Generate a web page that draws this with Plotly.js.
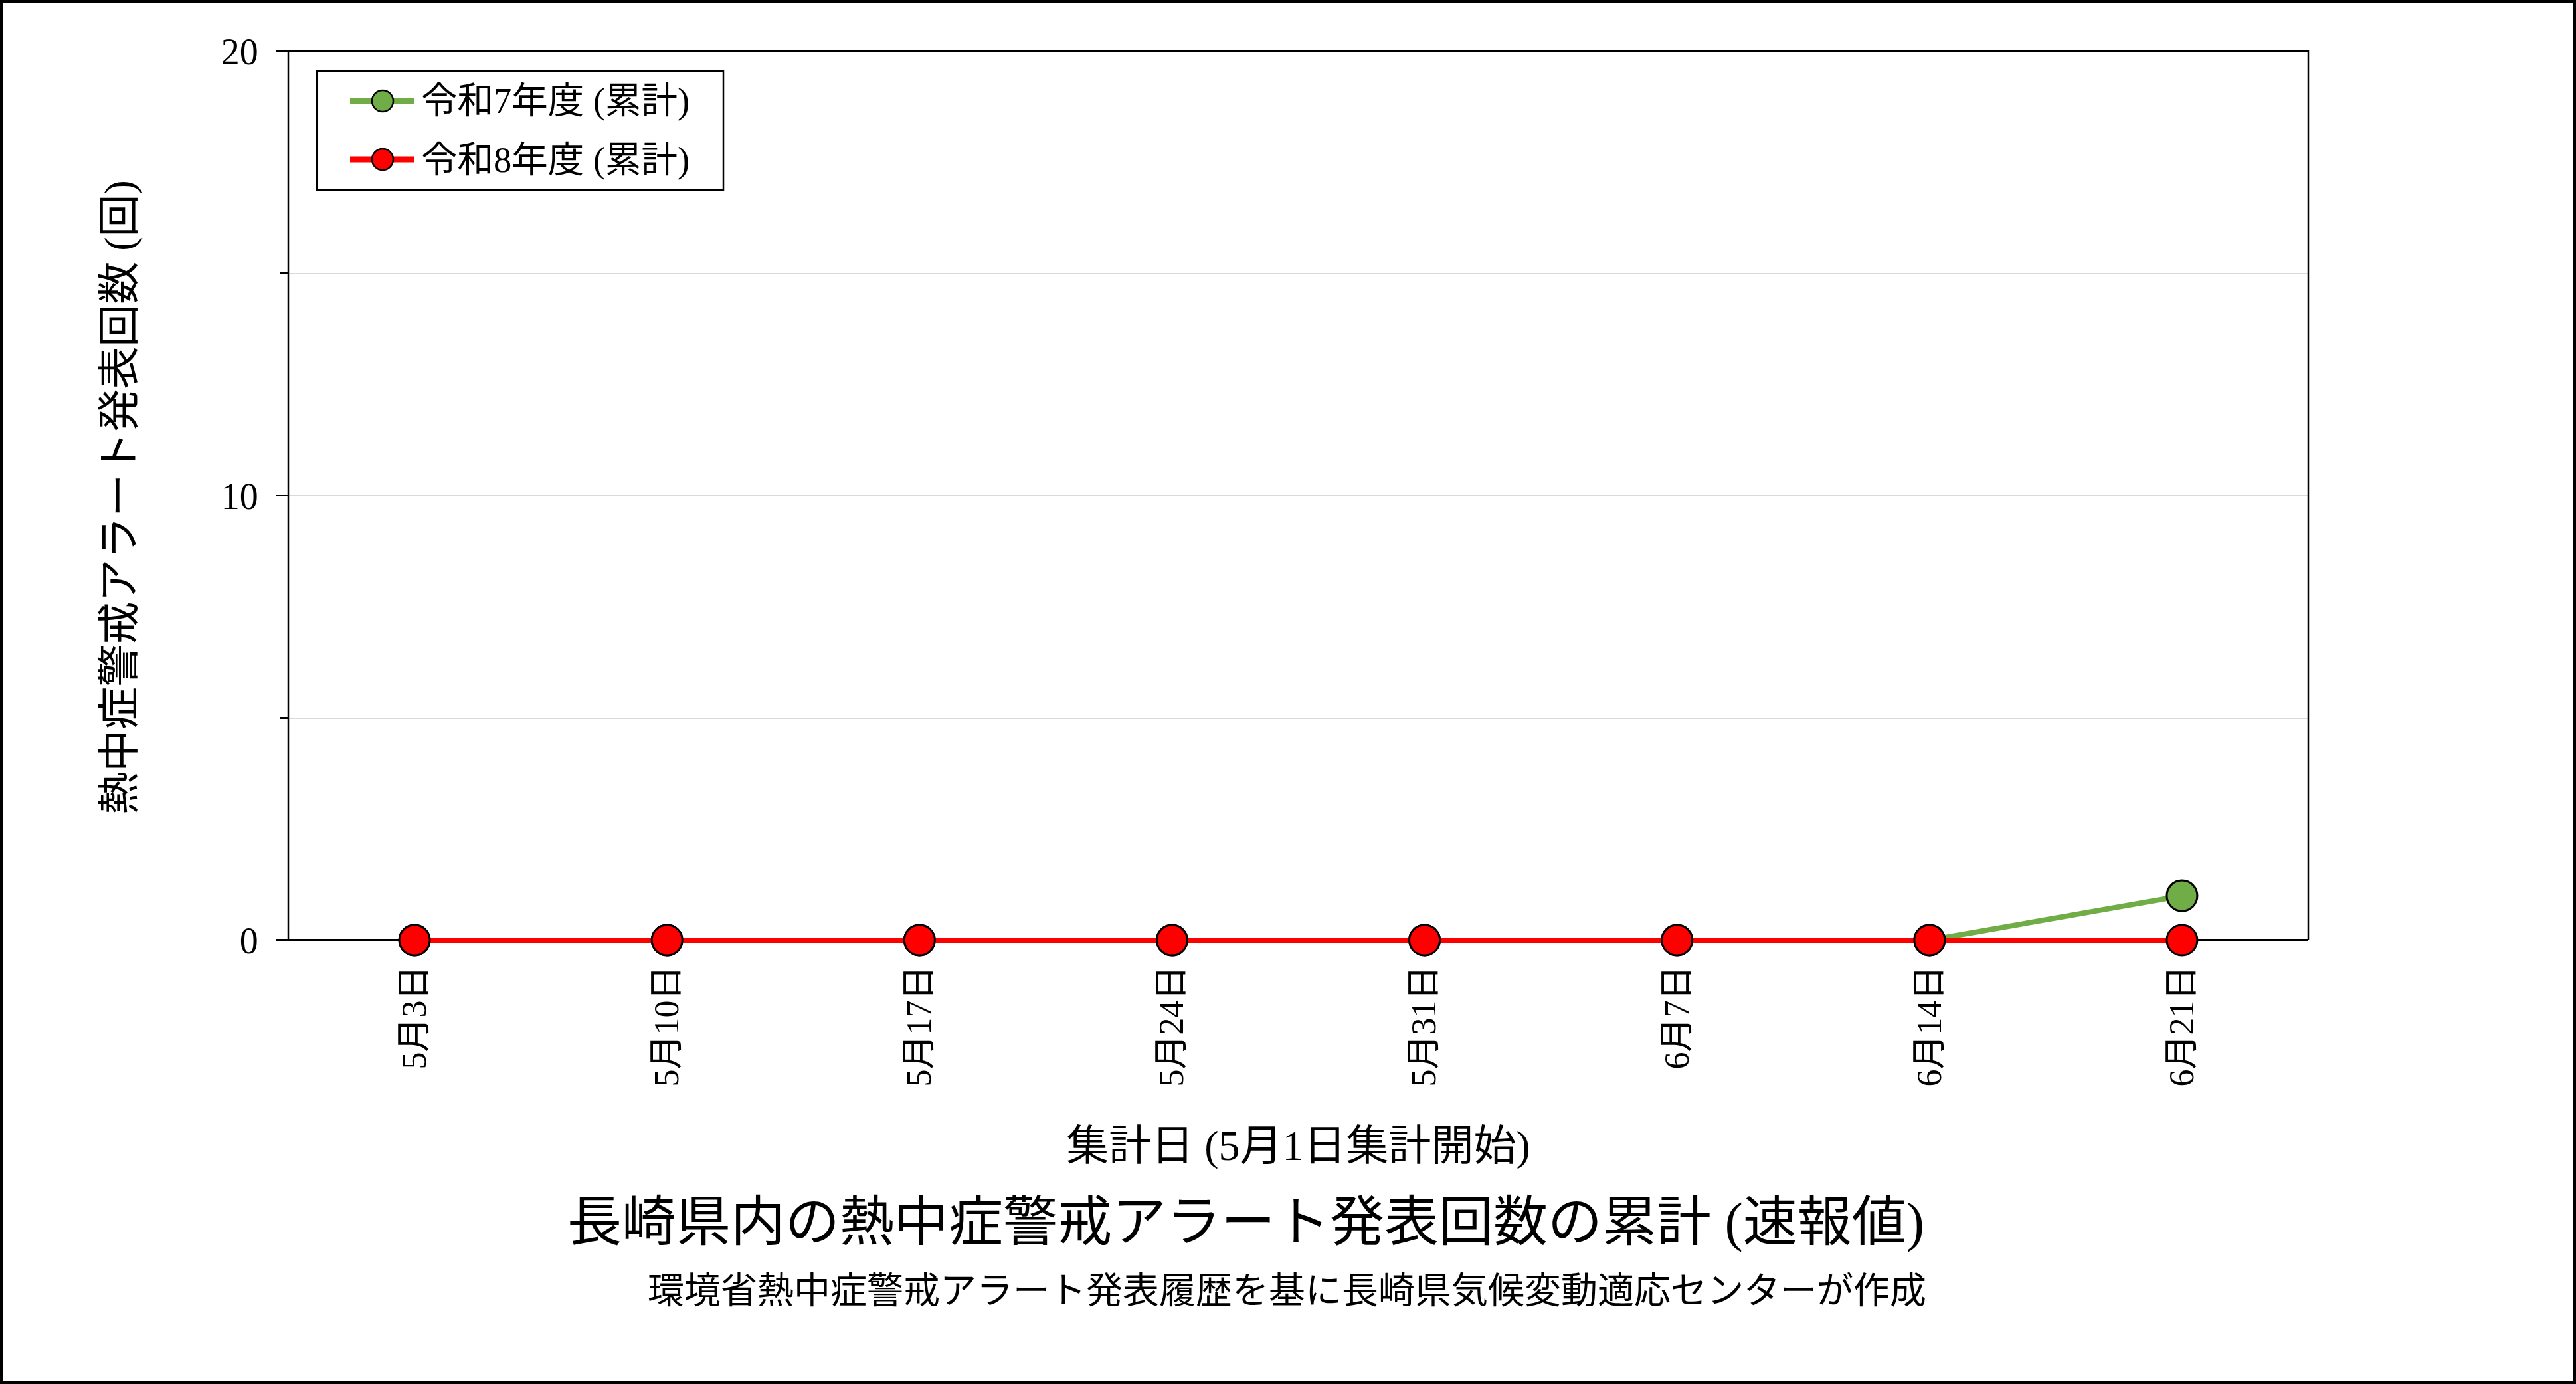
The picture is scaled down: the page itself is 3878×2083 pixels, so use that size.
<!DOCTYPE html>
<html>
<head>
<meta charset="utf-8">
<script src="https://cdn.plot.ly/plotly-3.0.1.min.js"></script>
<style>
html, body { margin: 0; padding: 0; background: #ffffff; }
#chart { width: 3878px; height: 2083px; }
</style>
</head>
<body>
<div id="chart"></div>
<script>
// ---- data ----
const dates = ["5月3日", "5月10日", "5月17日", "5月24日", "5月31日", "6月7日", "6月14日", "6月21日"];
const seriesNames = ["令和7年度 (累計)", "令和8年度 (累計)"];
const r7Values = [0, 0, 0, 0, 0, 0, 0, 1];
const r8Values = [0, 0, 0, 0, 0, 0, 0, 0];
const yTickVals = [0, 10, 20];
const yTickText = ["0", "10", "20"];
const titleText = "長崎県内の熱中症警戒アラート発表回数の累計 (速報値)";
const subtitleText = "環境省熱中症警戒アラート発表履歴を基に長崎県気候変動適応センターが作成";
const xTitleText = "集計日 (5月1日集計開始)";
const yTitleText = "熱中症警戒アラート発表回数 (回)";

// ---- layout geometry ----
const W = 3878, H = 2083;
const ZERO_PX = 1415;            // pixel row of value 0 (bottom of frame)
const PAD = 5;                   // room below 0 so the 0-level line is not clipped
const L = 434, R = 3475, T = 77, B = ZERO_PX + PAD;
const PW = R - L, PH = B - T;
const YMAX = 20;
const YMIN = -PAD * YMAX / (ZERO_PX - T);
const px = x => (x - L) / PW;
const py = y => (B - y) / PH;

const FONT = "'Liberation Serif', 'Noto Sans CJK JP', serif";
const colors = ["#70AD47", "#FF0000"];

const traces = [
  {
    type: "scatter", mode: "lines+markers", name: seriesNames[0],
    x: dates, y: r7Values, cliponaxis: false, showlegend: false,
    line: { color: colors[0], width: 8 },
    marker: { size: 46, color: colors[0], line: { color: "#000000", width: 3 } }
  },
  {
    type: "scatter", mode: "lines+markers", name: seriesNames[1],
    x: dates, y: r8Values, cliponaxis: false, showlegend: false,
    line: { color: colors[1], width: 8 },
    marker: { size: 46, color: colors[1], line: { color: "#000000", width: 3 } }
  }
];

const y0p = py(ZERO_PX);
const shapes = [
  // outer border of the whole image
  { type: "rect", xref: "paper", yref: "paper",
    x0: px(2), x1: px(W - 2), y0: py(H - 2), y1: py(2),
    line: { color: "#000000", width: 4 }, fillcolor: "rgba(0,0,0,0)", layer: "above" },
  // plot frame: left, top, right (bottom is the y zero line, under the data)
  { type: "path", xref: "paper", yref: "paper",
    path: `M0,${y0p} L0,1 L1,1 L1,${y0p}`,
    line: { color: "#000000", width: 2.5 }, layer: "above" },
  // legend box
  { type: "rect", xref: "paper", yref: "paper",
    x0: px(477), x1: px(1089), y0: py(286), y1: py(107),
    line: { color: "#000000", width: 2.5 }, fillcolor: "#ffffff", layer: "above" }
];
const annotations = [];
const legendRows = [152, 240];
seriesNames.forEach((nm, i) => {
  const cy = py(legendRows[i]);
  shapes.push({ type: "line", xref: "paper", yref: "paper",
    x0: px(527), x1: px(624), y0: cy, y1: cy,
    line: { color: colors[i], width: 9 }, layer: "above" });
  shapes.push({ type: "circle", xref: "paper", yref: "paper",
    xsizemode: "pixel", ysizemode: "pixel",
    xanchor: px(576), yanchor: cy, x0: -16, x1: 16, y0: -16, y1: 16,
    fillcolor: colors[i], line: { color: "#000000", width: 2.5 }, layer: "above" });
  annotations.push({ xref: "paper", yref: "paper", x: px(632), y: cy,
    xanchor: "left", yanchor: "middle", showarrow: false, text: nm,
    font: { family: FONT, size: 54.5, color: "#000000" } });
});

// subtitle
annotations.push({ xref: "paper", yref: "paper", x: px(2902), y: py(1942),
  xanchor: "right", yanchor: "middle", showarrow: false, text: subtitleText,
  font: { family: FONT, size: 55, color: "#000000" } });

const layout = {
  width: W, height: H,
  margin: { l: L, r: W - R, t: T, b: H - B, pad: 0 },
  paper_bgcolor: "#ffffff", plot_bgcolor: "#ffffff",
  showlegend: false,
  font: { family: FONT, color: "#000000" },
  title: {
    text: titleText, xref: "paper", yref: "container",
    x: px(2897), xanchor: "right", y: 1 - 1838 / H, yanchor: "middle",
    font: { family: FONT, size: 82, color: "#000000" }
  },
  xaxis: {
    type: "category", range: [-0.5, 7.5],
    showline: false, showgrid: false, zeroline: false, ticks: "", tickangle: -90,
    ticklabelstandoff: 22,
    tickfont: { family: FONT, size: 52, color: "#000000" },
    title: { text: xTitleText, standoff: 66, font: { family: FONT, size: 64, color: "#000000" } },
    automargin: false
  },
  yaxis: {
    range: [YMIN, YMAX], tickmode: "array", tickvals: yTickVals, ticktext: yTickText,
    showline: false,
    showgrid: true, gridcolor: "#D9D9D9", gridwidth: 2,
    zeroline: true, zerolinecolor: "#000000", zerolinewidth: 2.5,
    ticks: "outside", ticklen: 17, tickwidth: 2.5, tickcolor: "#000000",
    ticklabelstandoff: 16,
    tickfont: { family: FONT, size: 56, color: "#000000" },
    minor: { dtick: 5, ticks: "outside", ticklen: 12, tickwidth: 2.5, tickcolor: "#000000",
             showgrid: true, gridcolor: "#D9D9D9", gridwidth: 2 },
    title: { text: yTitleText, standoff: 110, font: { family: FONT, size: 64, color: "#000000" } },
    automargin: false
  },
  shapes: shapes,
  annotations: annotations
};

Plotly.newPlot("chart", traces, layout, { staticPlot: true, displayModeBar: false });
</script>
</body>
</html>
